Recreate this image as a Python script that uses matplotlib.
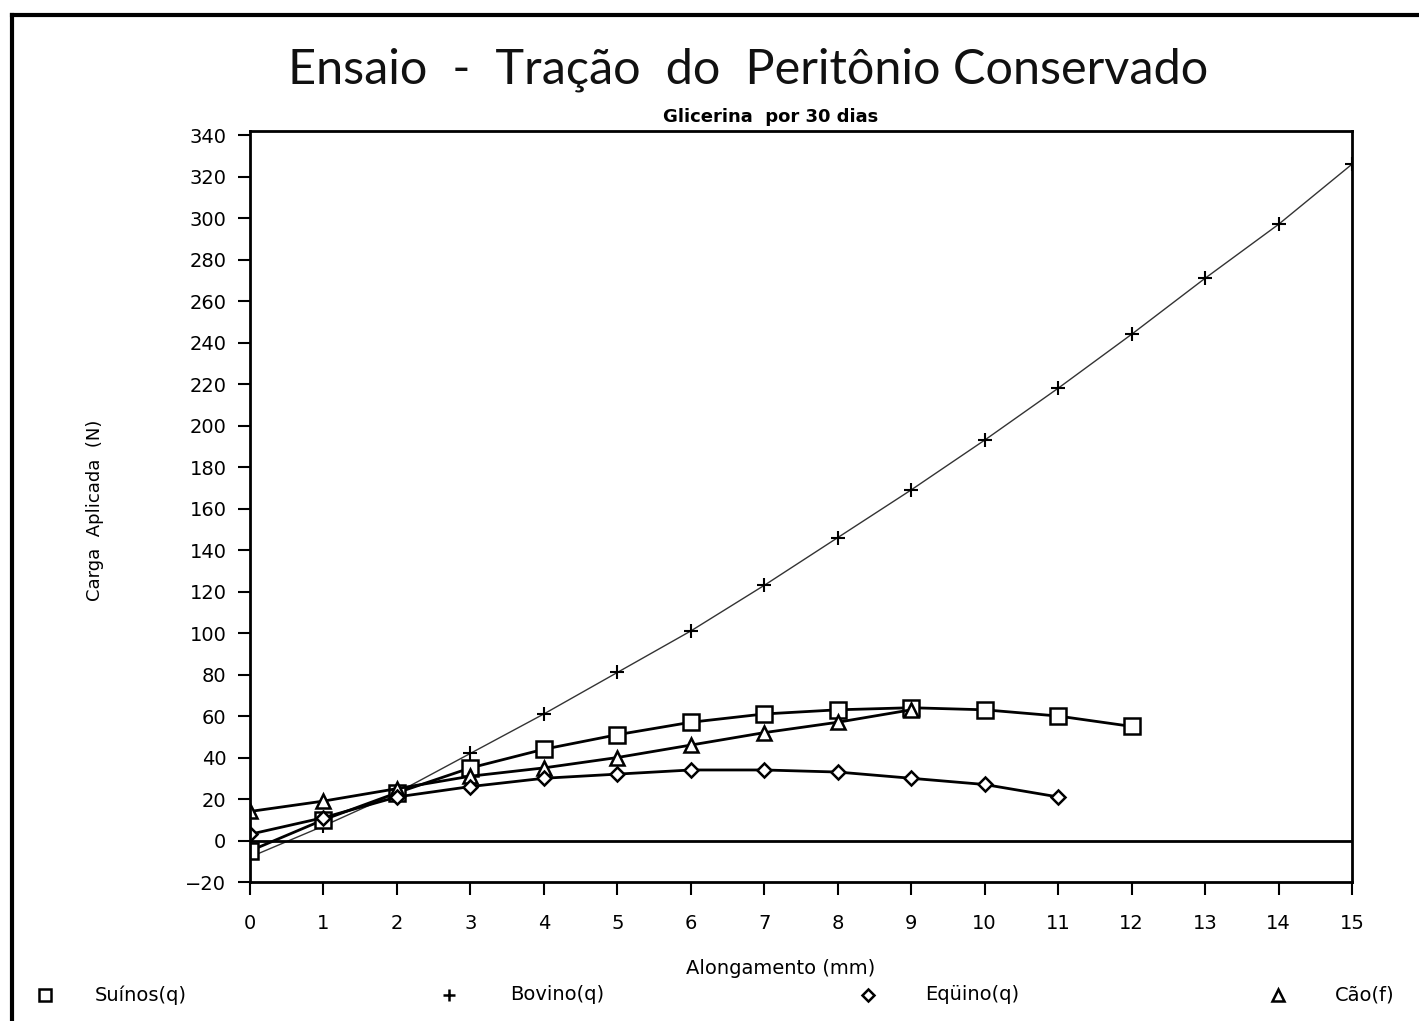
import matplotlib
matplotlib.use('Agg')
import matplotlib.pyplot as plt
from matplotlib.lines import Line2D

# values
suinos_x = list(range(0, 13))
suinos_y = [-5, 10, 23, 35, 44, 51, 57, 61, 63, 64, 63, 60, 55]
bovino_x = list(range(0, 16))
bovino_y = [-8, 7, 23, 42, 61, 81, 101, 123, 146, 169, 193, 218, 244, 271, 297, 326]
equino_x = list(range(0, 12))
equino_y = [3, 11, 21, 26, 30, 32, 34, 34, 33, 30, 27, 21]
cao_x = list(range(0, 10))
cao_y = [14, 19, 25, 31, 35, 40, 46, 52, 57, 63]

x_ticks = list(range(0, 16))
y_ticks = list(range(-20, 341, 20))
legend_names = ['Suínos(q)', 'Bovino(q)', 'Eqüino(q)', 'Cão(f)']

fig = plt.figure(figsize=(14.19, 10.21), dpi=100)
ax = fig.add_axes([250/1419, 1 - 882/1021, 1102/1419, 751/1021])

ax.plot(bovino_x, bovino_y, color='#333333', lw=1.0, marker='+', ms=10, mew=1.5, mec='black')
ax.plot(suinos_x, suinos_y, color='black', lw=2.0, marker='s', ms=11, mfc='white', mew=1.8)
ax.plot(cao_x, cao_y, color='black', lw=2.0, marker='^', ms=10, mfc='white', mew=1.8)
ax.plot(equino_x, equino_y, color='black', lw=2.0, marker='D', ms=7, mfc='white', mew=1.8)
ax.axhline(0, color='black', lw=2)

ax.set_xlim(0, 15)
ax.set_ylim(-20, 342)
ax.set_xticks(x_ticks)
ax.set_yticks(y_ticks)
for s in ax.spines.values():
    s.set_linewidth(2)
ax.tick_params(axis='both', direction='out', length=9, width=1.5, labelsize=14)
ax.tick_params(axis='y', pad=8)
ax.tick_params(axis='x', pad=14)

fig.text(748/1419, 1 - 70/1021, 'Ensaio  -  Tração  do  Peritônio Conservado',
         ha='center', va='center', fontsize=35, family='Lato', color='#111111')
fig.text(771/1419, 1 - 117/1021, 'Glicerina  por 30 dias',
         ha='center', va='center', fontsize=13, weight='bold')
fig.text(95/1419, 1 - 510/1021, 'Carga  Aplicada  (N)', rotation=90,
         ha='center', va='center', fontsize=13)
fig.text(781/1419, 1 - 968/1021, 'Alongamento (mm)', ha='center', va='center',
         fontsize=14)

# legend row along the bottom
markers = ['s', '+', 'D', '^']
marker_x = [45, 449, 868, 1278]
text_x = [95, 510, 925, 1335]
for m, mx, tx, name in zip(markers, marker_x, text_x, legend_names):
    fig.add_artist(Line2D([mx/1419], [1 - 995/1021], marker=m, ms=8 if m != 'D' else 6,
                          mfc='white', mec='black', mew=1.8, color='black'))
    fig.text(tx/1419, 1 - 995/1021, name, ha='left', va='center', fontsize=14)

# scan border (top and left only)
fig.add_artist(Line2D([12/1419, 1], [1 - 15/1021, 1 - 15/1021], color='black', lw=3))
fig.add_artist(Line2D([12/1419, 12/1419], [0, 1 - 15/1021], color='black', lw=3))

fig.savefig('out.png', dpi=100)
